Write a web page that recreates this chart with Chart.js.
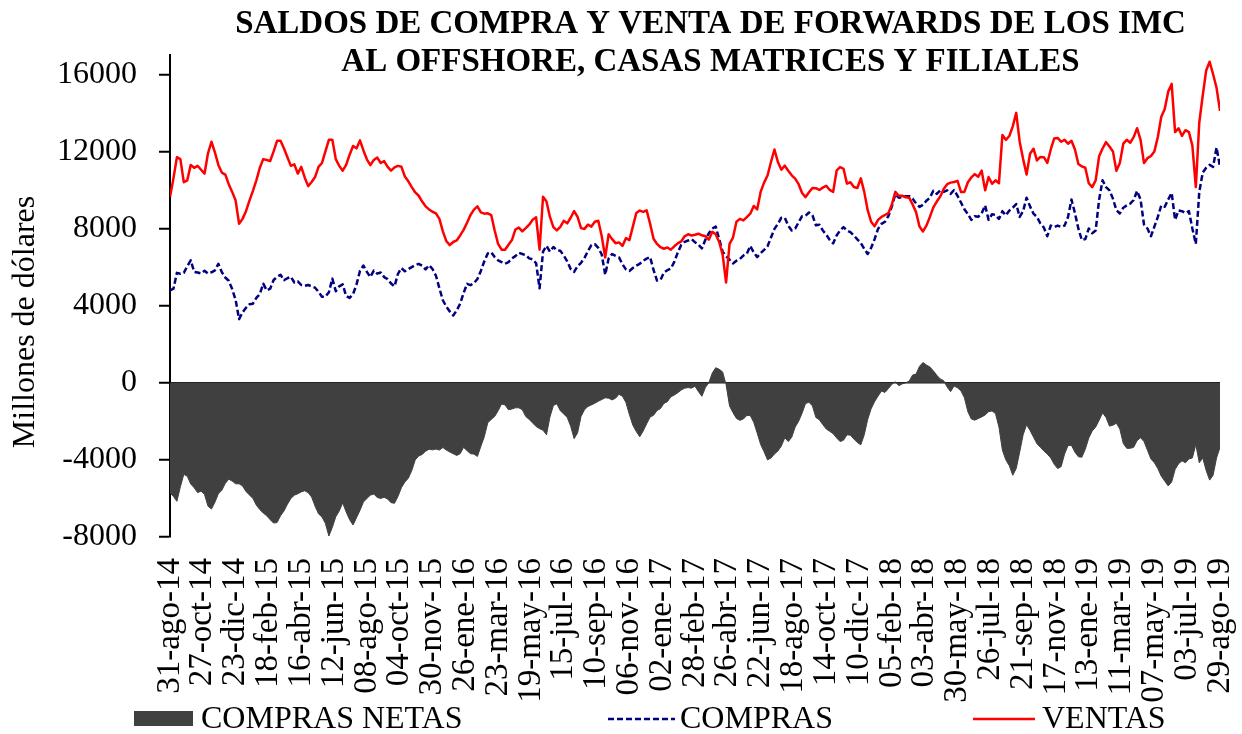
<!DOCTYPE html>
<html lang="es">
<head>
<meta charset="utf-8">
<title>Saldos de compra y venta de forwards de los IMC</title>
<script src="https://cdn.jsdelivr.net/npm/chart.js@4.4.1/dist/chart.umd.min.js"></script>
<style>
  html, body { margin: 0; padding: 0; background: #ffffff; }
  #wrap { width: 1242px; height: 734px; }
  canvas { display: block; }
</style>
</head>
<body>
<div id="wrap"><canvas id="chart" width="1242" height="734"></canvas></div>
<script>
// Observations every 6 calendar days, first one on 31-ago-14.
const STEP_DAYS = 6;
// Date labels on the horizontal axis, one every 57 days.
const TICK_EVERY_DAYS = 57;
const TICK_LABELS = [
  '31-ago-14', '27-oct-14', '23-dic-14', '18-feb-15', '16-abr-15', '12-jun-15',
  '08-ago-15', '04-oct-15', '30-nov-15', '26-ene-16', '23-mar-16', '19-may-16',
  '15-jul-16', '10-sep-16', '06-nov-16', '02-ene-17', '28-feb-17', '26-abr-17',
  '22-jun-17', '18-ago-17', '14-oct-17', '10-dic-17', '05-feb-18', '03-abr-18',
  '30-may-18', '26-jul-18', '21-sep-18', '17-nov-18', '13-ene-19', '11-mar-19',
  '07-may-19', '03-jul-19', '29-ago-19'
];
const Y_TICKS = [-8000, -4000, 0, 4000, 8000, 12000, 16000];

// Millones de dólares
const VENTAS = [
  9630, 10600, 11700, 11600, 10400, 10500, 11300, 11150, 11250, 11050,
  10850, 11900, 12500, 11950, 11300, 10900, 10800, 10300, 9900, 9450,
  8250, 8500, 8900, 9450, 9950, 10500, 11150, 11600, 11550, 11500,
  12000, 12550, 12550, 12150, 11700, 11250, 11330, 10850, 11200, 10650,
  10200, 10410, 10670, 11200, 11400, 12000, 12600, 12600, 11600, 11250,
  11000,
  11300, 11830, 12280, 12160, 12570, 12050, 11590, 11290, 11550,
  11680, 11400, 11500, 11200, 11000, 11170, 11250, 11200, 10700, 10450,
  10150, 9870, 9700, 9400, 9150, 8990, 8870, 8790, 8500, 7850,
  7350, 7140, 7300, 7380, 7640, 7930, 8300, 8700, 8980, 9150,
  8840, 8770, 8790, 8700, 7900, 7200, 6900, 6900, 7160, 7400,
  7950, 8050, 7850,
  8020, 8200, 8450, 8580, 6900, 9650, 9400,
  8600, 8070, 7900, 8080, 8400, 8270, 8560, 8900, 8600, 8020,
  7980, 8200, 8100, 8350, 8400, 7600, 6500, 7700, 7450, 7240,
  7280, 7100, 7500, 7400, 8100, 8800, 8930, 8860, 8940, 8250,
  7470, 7200, 7030, 6950, 7020, 6900, 7080, 7230, 7330, 7600,
  7700, 7640, 7680, 7730, 7650,
  7600, 7420, 7830, 7700, 7300,
  6650, 5200, 7200, 7530, 8350, 8500, 8420, 8590, 8770, 9170,
  8990, 9900, 10380, 10750, 11450, 12100, 11450, 11050, 11260, 11000,
  10760, 10590, 10300, 9840, 9630, 9880, 10100, 10090, 10000, 10120,
  10220, 10000, 9900, 11000, 11190, 11100, 10330, 10400, 10150, 10100,
  10600, 9900, 8950, 8350, 8120, 8450, 8600,
  8700, 8800, 9250,
  9900, 9700, 9700, 9620, 9600, 9250, 8850, 8100, 7850, 8150,
  8600, 9100, 9400, 9660, 10050, 10300, 10380, 10410, 10470, 9900,
  9900, 10400, 10650, 10820, 10690, 11000, 9980, 10670, 10320, 10500,
  10350, 12850, 12600, 12800, 13300, 14000, 12500, 11600, 10800, 11880,
  12140, 11530, 11710, 11700, 11400, 12100, 12670, 12700, 12500,
  12600,
  12400, 12550, 12100, 11350, 11220, 11150, 10350, 10150, 10500, 11750,
  12150, 12480, 12250, 12000, 11000, 11400, 12400, 12600, 12450, 12740,
  13200, 12600, 11400, 11650, 11760, 12000, 12750, 13800, 14200, 15100,
  15500, 13000, 13200, 12800, 13100, 13000, 12300, 10150, 13500, 14900,
  16200, 16650, 16000, 15300, 14100
];

const COMPRAS = [
  4790, 4880, 5700, 5650, 5700, 6050, 6350, 5750, 5720, 5670,
  5810, 5670, 5730, 5830, 6170, 5740, 5460, 5290, 4860, 4300,
  3300, 3650, 3890, 4070, 4100, 4400, 4600, 5140, 4790, 4880,
  5330, 5490, 5600, 5320, 5420, 5500, 5200, 5260, 5070, 5030,
  5070, 5000, 4930, 4720, 4460, 4460, 4700, 5400, 4750, 5000,
  5100,
  4500, 4400, 4600, 5100, 5800, 6080, 5750, 5480, 5820,
  5660, 5720, 5480, 5380, 5150, 5000, 5650, 5950, 5780, 5900,
  6000, 6100, 6170, 6070, 5880, 6100, 5900, 5550, 4900, 4280,
  3950, 3700, 3490, 3750, 4100, 4650, 5130, 5060, 5170, 5380,
  5800, 6300, 6710, 6770, 6520, 6350, 6260, 6170, 6260, 6450,
  6570, 6740, 6680,
  6620, 6450, 6400, 6200, 4900, 6800, 7100,
  6800, 7040, 6870, 6850, 6600, 6300, 5900, 5750, 6050, 6220,
  6480, 6830, 7140, 7190, 7000, 6650, 5600, 6450, 6680, 6580,
  6500, 6150, 5880, 5800, 5950, 6080, 6170, 6330, 6440, 6520,
  5850, 5300, 5330, 5720, 5840, 5920, 6270, 6750, 7150, 7310,
  7380, 7450, 7290, 7160, 6970,
  7420, 7750, 8000, 8100, 7450,
  6800, 6560, 6380, 6190, 6330, 6420, 6600, 6690, 7100, 6760,
  6520, 6720, 6890, 7080, 7530, 7980, 8240, 8560, 8560, 8150,
  7900, 8000, 8320, 8640, 8660, 8830, 8690, 8170, 8200, 7900,
  7680, 7410, 7230, 7640, 7900, 8070, 7900, 7810, 7640, 7440,
  7250, 6950, 6680, 7000, 7450, 7980, 8240,
  8350, 8650, 9150,
  9780, 9600, 9620, 9680, 9680, 9550, 9300, 9120, 9230, 9440,
  9600, 9960, 9800, 9980, 9900, 9980, 9800, 10000, 9700, 9350,
  9000, 8750, 8450, 8640, 8610, 8790, 9200, 8450, 8740, 8700,
  8500, 8900, 8680, 8930, 9080, 9270, 8600, 8900, 9600, 9150,
  8770, 8600, 8260, 8050, 7600, 8150, 8070, 8150, 8080,
  8150,
  8600, 9500, 8800, 7990, 7400, 7450, 8000, 7760, 7900, 9500,
  10500, 10150, 9980, 9550, 8950, 8780, 9080, 9200, 9290, 9480,
  9950, 9500, 8200, 8000, 7600, 8100, 8600, 9200, 9130, 9500,
  9850, 8450, 8940, 8900, 8800, 8900, 8000, 7200, 9900, 10900,
  11150, 11300, 11200, 12200, 11200
];

const COMPRAS_NETAS = [
  -5700, -5900, -6150, -5400, -4750, -4850, -5250, -5450, -5700, -5620,
  -5800, -6400, -6550, -6200, -5760, -5580, -5220, -5000, -5100, -5240,
  -5240, -5350, -5640, -5820, -6000, -6350, -6580, -6760, -6900, -7100,
  -7280, -7250, -6900, -6650, -6300, -6000, -5830, -5760, -5660, -5600,
  -5700, -5930, -6400, -6800, -6960, -7300, -7950, -7500, -6950, -6650,
  -6230,
  -6700, -7100, -7380, -7000, -6620, -6190, -6000, -5830, -5770,
  -5950, -6000, -5940, -6030, -6220, -6250, -5900, -5440, -5150, -4950,
  -4550, -4000, -3800, -3720, -3550, -3450, -3480, -3440, -3490, -3360,
  -3490, -3590, -3680, -3770, -3680, -3350, -3520, -3680, -3700, -3820,
  -3300, -2800, -2080, -1900, -1750, -1450, -1100, -1150, -1400, -1360,
  -1300, -1300, -1400,
  -1750, -1900, -2090, -2270, -2380, -2460, -2700,
  -1780, -1180, -1090, -1450, -1620, -1800, -2250, -2900, -2600, -1750,
  -1400, -1230, -1150, -1060, -960, -870, -780, -800, -890, -800,
  -600, -700, -1020, -1650, -2200, -2530, -2800, -2500, -2130, -1780,
  -1690, -1440, -1340, -1070, -980, -730, -640, -520, -380, -280,
  -250, -280, -180, -460, -700,
  -250, 0, 500, 780, 700,
  560, -100, -1200, -1550, -1850, -1950, -1880, -1700, -1700, -2050,
  -2600, -3200, -3580, -4000, -3900, -3700, -3540, -3280, -2850, -3050,
  -2830, -2300, -2000, -1580, -1080, -1010, -1200, -1800, -1920, -2170,
  -2400, -2520, -2640, -2860, -3050, -2980, -2700, -2720, -2920, -3100,
  -3220, -2700, -1900, -1350, -980, -690, -430,
  -500, -300, -80,
  50, -150, -60, 0, 80, 400, 450, 850, 1050, 920,
  820, 620, 390, 200, 110, -220, -460, -170, -260, -420,
  -780, -1500, -1880, -1940, -1860, -1770, -1670, -1500, -1460, -1600,
  -2300, -3500, -4000, -4300, -4800, -4450, -3600, -2700, -2180, -2470,
  -2820, -3160, -3350, -3540, -3700, -3900, -4230, -4450, -4350,
  -3700,
  -3250, -3250, -3600, -3840, -3860, -3450, -2870, -2500, -2300, -1950,
  -1560, -1800, -2250, -2200, -2100, -2400, -3150, -3400, -3400, -3350,
  -3000, -2850, -3050, -3500, -3950, -4150, -4450, -4850, -5100, -5350,
  -5150, -4500, -4200, -4050, -4150, -3950, -3900, -3200, -4150, -3900,
  -4550, -5050, -4800, -3900, -3350
];

const TITLE_LINES = [
  'SALDOS DE COMPRA Y VENTA DE FORWARDS DE LOS IMC',
  'AL OFFSHORE, CASAS MATRICES Y FILIALES'
];
const Y_TITLE = 'Millones de dólares';

const SERIF = "'Liberation Serif', 'Times New Roman', Times, serif";
const toPoints = arr => arr.map((v, i) => ({ x: i * STEP_DAYS, y: v }));

// Two-line bold heading and the rotated axis caption.
const headingPlugin = {
  id: 'heading',
  afterDraw(chart) {
    const ctx = chart.ctx;
    ctx.save();
    ctx.fillStyle = '#000';
    ctx.textAlign = 'center';
    ctx.textBaseline = 'alphabetic';
    ctx.font = `bold 33px ${SERIF}`;
    ctx.fillText(TITLE_LINES[0], 710.5, 33);
    ctx.fillText(TITLE_LINES[1], 710.5, 71);
    ctx.font = `32px ${SERIF}`;
    ctx.translate(34, 322);
    ctx.rotate(-Math.PI / 2);
    ctx.fillText(Y_TITLE, 0, 0);
    ctx.restore();
  }
};

// Legend row along the bottom edge.
const bottomLegendPlugin = {
  id: 'bottomLegend',
  afterDraw(chart) {
    const ctx = chart.ctx;
    const ds = chart.data.datasets;
    const slots = [
      { x: 134, w: 59, textX: 201 },
      { x: 608, w: 67, textX: 680 },
      { x: 973, w: 62, textX: 1042 }
    ];
    const midY = 719;
    ctx.save();
    ds.forEach((d, i) => {
      const s = slots[i];
      if (d.fill) {
        ctx.fillStyle = d.backgroundColor;
        ctx.fillRect(s.x, midY - 8, s.w, 15);
      } else {
        ctx.strokeStyle = d.borderColor;
        ctx.lineWidth = d.borderWidth;
        ctx.setLineDash(d.borderDash || []);
        ctx.beginPath();
        ctx.moveTo(s.x, midY);
        ctx.lineTo(s.x + s.w, midY);
        ctx.stroke();
        ctx.setLineDash([]);
      }
      ctx.fillStyle = '#000';
      ctx.font = `32px ${SERIF}`;
      ctx.textAlign = 'left';
      ctx.textBaseline = 'alphabetic';
      ctx.fillText(d.label, s.textX, 728);
    });
    ctx.restore();
  }
};

new Chart(document.getElementById('chart'), {
  type: 'line',
  data: {
    datasets: [
      {
        label: 'COMPRAS NETAS',
        data: toPoints(COMPRAS_NETAS),
        fill: 'origin',
        backgroundColor: '#404040',
        borderColor: '#404040',
        borderWidth: 1,
        pointRadius: 0,
        order: 2
      },
      {
        label: 'COMPRAS',
        data: toPoints(COMPRAS),
        fill: false,
        borderColor: '#000080',
        borderWidth: 2.5,
        borderDash: [6, 3],
        borderJoinStyle: 'round',
        pointRadius: 0,
        order: 1
      },
      {
        label: 'VENTAS',
        data: toPoints(VENTAS),
        fill: false,
        borderColor: '#ff0000',
        borderWidth: 2.5,
        borderJoinStyle: 'round',
        pointRadius: 0,
        order: 0
      }
    ]
  },
  options: {
    responsive: false,
    animation: false,
    events: [],
    layout: { padding: { top: 55, right: 22, left: 0, bottom: 0 } },
    elements: { line: { tension: 0 } },
    plugins: {
      legend: { display: false },
      title: { display: false },
      tooltip: { enabled: false }
    },
    scales: {
      x: {
        type: 'linear',
        min: 0,
        max: (TICK_LABELS.length - 1) * TICK_EVERY_DAYS,
        grid: { display: false, drawTicks: false },
        border: { display: false },
        afterBuildTicks: s => {
          s.ticks = TICK_LABELS.map((_, k) => ({ value: k * TICK_EVERY_DAYS }));
        },
        afterFit: s => { s.height = 197; s.paddingLeft = 0; s.paddingRight = 0; },
        ticks: {
          autoSkip: false,
          minRotation: 90,
          maxRotation: 90,
          padding: 21,
          labelOffset: 0,
          color: '#000',
          font: { family: SERIF, size: 33, lineHeight: 1 },
          callback: (value, index) => TICK_LABELS[index]
        }
      },
      y: {
        min: -8000,
        max: 17000,
        afterBuildTicks: s => { s.ticks = Y_TICKS.map(v => ({ value: v })); },
        afterFit: s => { s.width = 170; s.paddingTop = 0; s.paddingBottom = 0; },
        grid: {
          color: c => (c.tick && c.tick.value === 0) ? '#1a1a1a' : 'rgba(0,0,0,0)',
          lineWidth: 1.5,
          drawTicks: true,
          tickLength: 11,
          tickColor: '#000',
          tickWidth: 2
        },
        border: { display: true, color: '#000', width: 2 },
        ticks: {
          padding: 22,
          color: '#000',
          font: { family: SERIF, size: 32 },
          callback: value => String(value)
        }
      }
    }
  },
  plugins: [headingPlugin, bottomLegendPlugin]
});
</script>
</body>
</html>
